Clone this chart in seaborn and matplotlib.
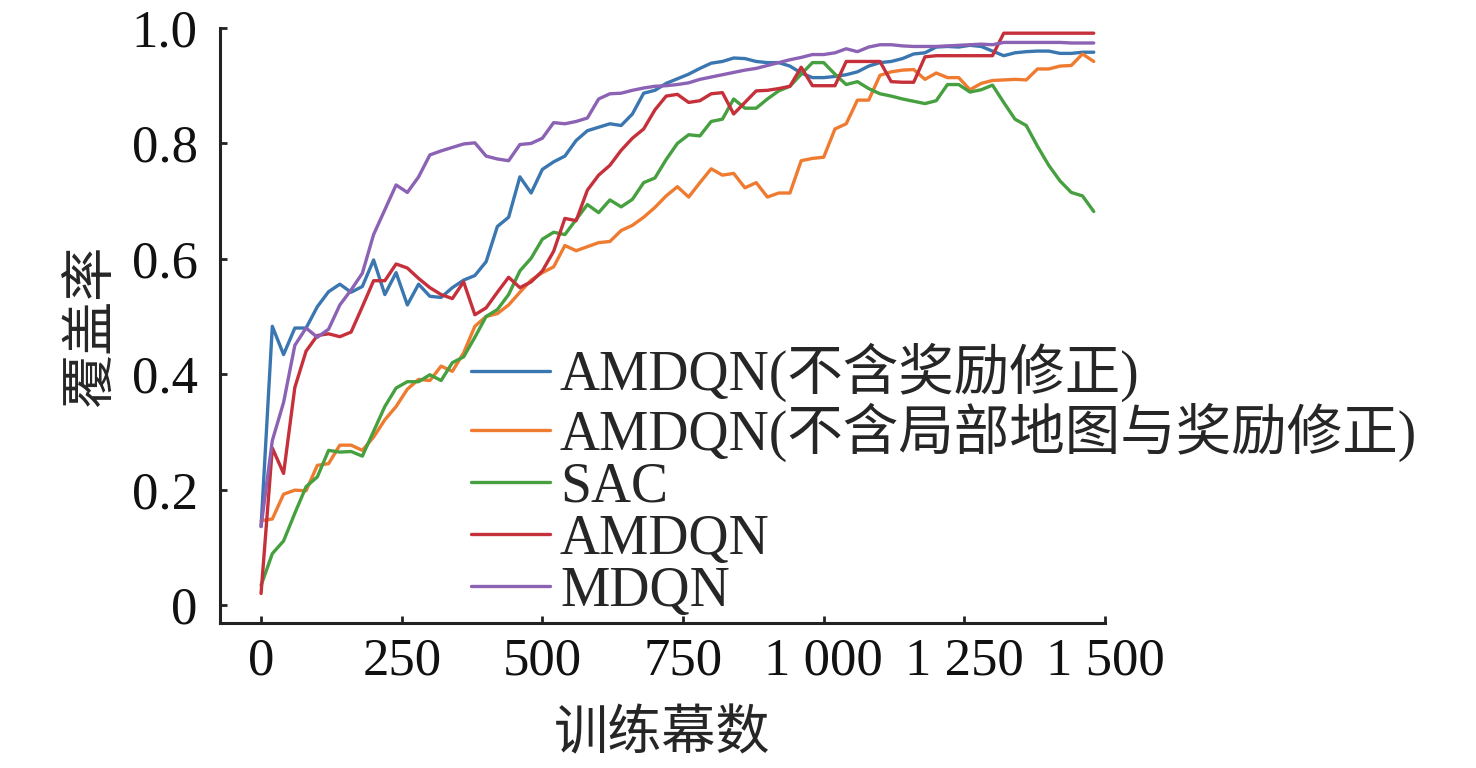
import numpy as np
import pandas as pd
import seaborn as sns
import matplotlib.pyplot as plt
import matplotlib.ticker as mticker

# coverage rate vs training episodes, sampled every 20 episodes
episodes = np.arange(0, 1500, 20)

amdqn_no_reward = [0.136, 0.483, 0.434, 0.480, 0.480, 0.517, 0.543, 0.556, 0.542, 0.552,
                   0.598, 0.538, 0.576, 0.520, 0.556, 0.535, 0.533, 0.550, 0.563, 0.571,
                   0.595, 0.656, 0.672, 0.742, 0.714, 0.755, 0.768, 0.778, 0.805, 0.822,
                   0.828, 0.834, 0.831, 0.851, 0.887, 0.892, 0.904, 0.912, 0.920, 0.930,
                   0.939, 0.942, 0.948, 0.947, 0.942, 0.940, 0.940, 0.934, 0.922, 0.914,
                   0.914, 0.916, 0.919, 0.924, 0.934, 0.940, 0.942, 0.947, 0.955, 0.957,
                   0.967, 0.968, 0.967, 0.970, 0.968, 0.960, 0.952, 0.957, 0.959, 0.960,
                   0.960, 0.956, 0.956, 0.958, 0.958]

amdqn_no_map_reward = [0.146, 0.149, 0.192, 0.199, 0.198, 0.242, 0.245, 0.277, 0.277, 0.268,
                       0.291, 0.321, 0.344, 0.374, 0.391, 0.389, 0.414, 0.405, 0.437, 0.483,
                       0.500, 0.505, 0.520, 0.542, 0.563, 0.576, 0.586, 0.623, 0.614, 0.621,
                       0.628, 0.630, 0.649, 0.658, 0.672, 0.689, 0.709, 0.725, 0.707, 0.732,
                       0.756, 0.745, 0.748, 0.723, 0.732, 0.707, 0.714, 0.714, 0.770, 0.774,
                       0.776, 0.825, 0.834, 0.875, 0.875, 0.918, 0.924, 0.927, 0.928, 0.911,
                       0.922, 0.914, 0.914, 0.893, 0.904, 0.909, 0.910, 0.911, 0.910, 0.929,
                       0.929, 0.934, 0.935, 0.955, 0.942]

sac = [0.034, 0.089, 0.111, 0.159, 0.205, 0.222, 0.268, 0.265, 0.266, 0.258,
       0.301, 0.344, 0.376, 0.387, 0.387, 0.399, 0.389, 0.420, 0.430, 0.464,
       0.500, 0.512, 0.538, 0.579, 0.601, 0.634, 0.646, 0.642, 0.668, 0.694,
       0.680, 0.702, 0.690, 0.703, 0.732, 0.740, 0.772, 0.800, 0.815, 0.813,
       0.838, 0.842, 0.877, 0.861, 0.861, 0.877, 0.891, 0.899, 0.920, 0.940,
       0.940, 0.920, 0.902, 0.907, 0.895, 0.886, 0.882, 0.877, 0.873, 0.869,
       0.874, 0.902, 0.902, 0.889, 0.893, 0.901, 0.871, 0.842, 0.831, 0.795,
       0.762, 0.735, 0.715, 0.709, 0.682]

amdqn = [0.020, 0.272, 0.228, 0.377, 0.440, 0.467, 0.470, 0.465, 0.473, 0.517,
         0.562, 0.562, 0.591, 0.584, 0.566, 0.550, 0.538, 0.531, 0.560, 0.503,
         0.515, 0.542, 0.568, 0.550, 0.560, 0.579, 0.613, 0.670, 0.666, 0.719,
         0.745, 0.762, 0.788, 0.809, 0.825, 0.858, 0.882, 0.885, 0.871, 0.874,
         0.886, 0.888, 0.851, 0.871, 0.891, 0.892, 0.895, 0.899, 0.932, 0.900,
         0.900, 0.900, 0.942, 0.942, 0.942, 0.942, 0.907, 0.906, 0.906, 0.950,
         0.952, 0.952, 0.952, 0.952, 0.952, 0.952, 0.991, 0.991, 0.991, 0.991,
         0.991, 0.991, 0.991, 0.991, 0.991]

mdqn = [0.136, 0.285, 0.351, 0.450, 0.480, 0.464, 0.478, 0.520, 0.546, 0.575,
        0.642, 0.685, 0.728, 0.715, 0.742, 0.780, 0.787, 0.793, 0.799, 0.801,
        0.778, 0.773, 0.770, 0.798, 0.800, 0.809, 0.836, 0.834, 0.838, 0.844,
        0.877, 0.886, 0.887, 0.892, 0.896, 0.899, 0.900, 0.902, 0.905, 0.911,
        0.915, 0.919, 0.923, 0.927, 0.930, 0.935, 0.940, 0.945, 0.949, 0.954,
        0.954, 0.957, 0.964, 0.959, 0.967, 0.971, 0.971, 0.969, 0.968, 0.968,
        0.968, 0.969, 0.970, 0.971, 0.972, 0.971, 0.975, 0.975, 0.975, 0.975,
        0.975, 0.975, 0.974, 0.974, 0.974]

methods = ["AMDQN(不含奖励修正)", "AMDQN(不含局部地图与奖励修正)", "SAC", "AMDQN", "MDQN"]
series = [amdqn_no_reward, amdqn_no_map_reward, sac, amdqn, mdqn]
colors = ["#3a76b0", "#ef7b31", "#46a03f", "#c5303a", "#8b62b4"]

rows = []
for name, vals in zip(methods, series):
    for ep, v in zip(episodes, vals):
        rows.append((ep, v, name))
df = pd.DataFrame(rows, columns=["episode", "coverage", "method"])

sns.set_style("ticks")
plt.rcParams['font.family'] = ['Liberation Serif', 'Noto Sans CJK SC']
plt.rcParams['axes.unicode_minus'] = False

fig = plt.figure(figsize=(14.76, 7.68), dpi=100)
ax = fig.add_axes([220 / 1476, (768 - 622.7) / 768, (1105 - 220) / 1476, (622.7 - 28) / 768])

sns.lineplot(data=df, x="episode", y="coverage", hue="method", hue_order=methods,
             palette=colors, linewidth=2.4, ax=ax)

ax.set_xlim(-73, 1500)
ax.set_ylim(-0.0307, 1.0)
ax.set_xticks([0, 250, 500, 750, 1000, 1250, 1500])
ax.set_xticklabels(["0", "250", "500", "750", "1 000", "1 250", "1 500"])
ax.set_yticks([0, 0.2, 0.4, 0.6, 0.8, 1.0])
ax.set_yticklabels(["0", "0.2", "0.4", "0.6", "0.8", "1.0"])

for side in ["top", "right"]:
    ax.spines[side].set_visible(False)
for side in ["left", "bottom"]:
    ax.spines[side].set_linewidth(2.2)
    ax.spines[side].set_color("#222222")

ax.tick_params(axis="both", direction="in", length=5, width=2, colors="#222222",
               labelsize=38, labelcolor="#111111")
ax.tick_params(axis="y", pad=16)
ax.tick_params(axis="x", pad=11)

ax.set_xlabel("训练幕数", fontsize=39, labelpad=18)
ax.set_ylabel("覆盖率", fontsize=39, labelpad=10)

handles, labels = ax.get_legend_handles_labels()
ax.legend(handles, labels, loc="upper left", bbox_to_anchor=(471 / 1476, 1 - 343 / 768),
          bbox_transform=fig.transFigure, frameon=False, fontsize=40,
          handlelength=1.42, handletextpad=0.18, labelspacing=0.0,
          borderpad=0, borderaxespad=0)

plt.savefig("out.png", dpi=100)
